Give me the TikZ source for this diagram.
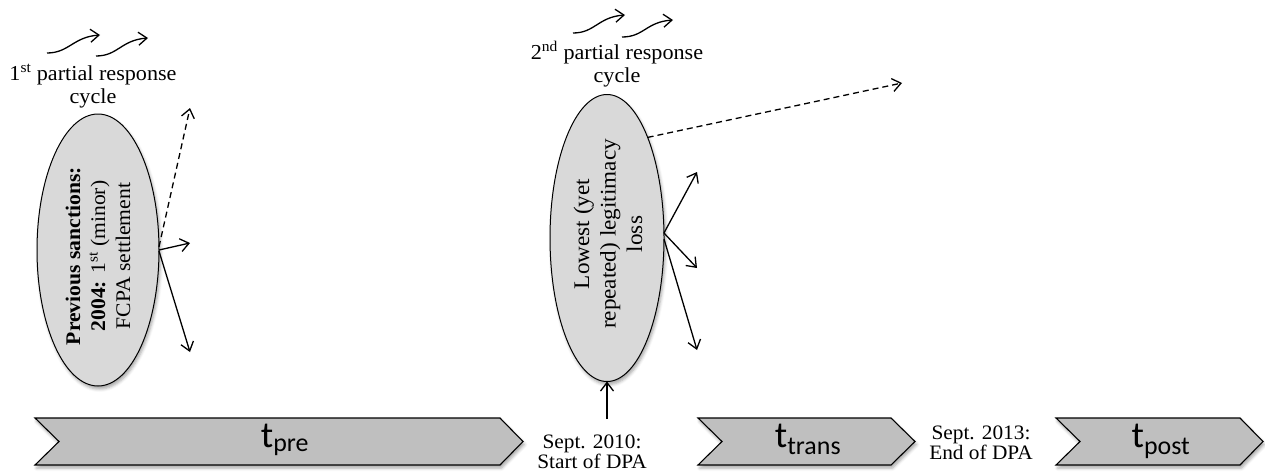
\documentclass[tikz,border=0pt]{standalone}
\usepackage{fontspec}
\setmainfont{Liberation Serif}[FakeStretch=1.04]
\newfontfamily\phasefont{Carlito}
\usetikzlibrary{arrows.meta,shadows.blur,shapes.geometric}

\definecolor{phasefill}{RGB}{191,191,191}
\definecolor{eventfill}{RGB}{217,217,217}

\begin{document}
\begin{tikzpicture}[x=1pt,y=-1pt,
  every node/.style={inner sep=0pt, outer sep=0pt},
  barb/.style={-{Straight Barb[length=8.5pt,width=13pt]}},
  conn/.style={line width=1.3pt, barb},
  dashconn/.style={conn, dash pattern=on 6pt off 4pt},
  softshadow/.style={blur shadow={shadow xshift=1.5pt, shadow yshift=-3pt,
      shadow blur radius=3pt, shadow opacity=35}},
  phase/.style={draw=black, line width=1.1pt, fill=phasefill, softshadow},
  event/.style={ellipse, draw=black, line width=1pt, fill=eventfill, softshadow},
  phaselabel/.style={font=\phasefont\fontsize{37}{40}\selectfont, anchor=base},
  datelabel/.style={align=center, font=\fontsize{20.5}{20}\selectfont},
  cyclelabel/.style={align=center, font=\fontsize{21.3}{23}\selectfont},
]
\useasboundingbox (0,0) rectangle (1265,471);

% ---- phase chevrons along the time line ----
\path[phase] (35,418) -- (500,418) -- (523,441.5) -- (500,465) -- (35,465) -- (59,441.5) -- cycle;
\path[phase] (698,418) -- (891,418) -- (915,441.5) -- (891,465) -- (698,465) -- (722,441.5) -- cycle;
\path[phase] (1056,418) -- (1240,418) -- (1263,441.5) -- (1240,465) -- (1056,465) -- (1080,441.5) -- cycle;

\node[phaselabel] (tpre)   at (285,447)  {t\textsubscript{pre}};
\node[phaselabel] (ttrans) at (808,447)  {t\textsubscript{trans}};
\node[phaselabel] (tpost)  at (1161,447) {t\textsubscript{post}};

\node[datelabel] (start) at (592,452) {Sept. 2010:\\Start of DPA};
\node[datelabel] (end)   at (981,443) {Sept. 2013:\\End of DPA};

% ---- sanction events ----
\node[event, minimum width=122pt, minimum height=272pt] (e1) at (98,250) {};
\node[rotate=90, align=center, font=\fontsize{20.8}{25}\selectfont] (e1text) at (98,256)
  {\textbf{Previous sanctions:}\\\textbf{2004:} 1\textsuperscript{st} (minor)\\FCPA settlement};

\node[event, minimum width=114pt, minimum height=287pt] (e2) at (607,238) {};
\node[rotate=90, align=center, font=\fontsize{22.3}{26.5}\selectfont] (e2text) at (608,234)
  {Lowest (yet\\repeated) legitimacy\\loss};

% ---- partial response cycles ----
\node[cyclelabel] (cyc1) at (93,86) {1\textsuperscript{st} partial response\\cycle};
\node[cyclelabel] (cyc2) at (617,64) {2\textsuperscript{nd} partial response\\cycle};

\coordinate (q1s) at (47,53);   \coordinate (q1e) at (100,35);
\coordinate (q2s) at (96,56);   \coordinate (q2e) at (148,38);
\coordinate (q3s) at (573,33);  \coordinate (q3e) at (625,15);
\coordinate (q4s) at (622,37);  \coordinate (q4e) at (673,20);
\foreach \a in {1,2,3,4}
  \draw[conn] (q\a s) .. controls +(22,0) and +(-27,2) .. (q\a e);

% ---- responses after the first sanction ----
\coordinate (r1a) at (190,108);
\coordinate (r1b) at (190,243);
\coordinate (r1c) at (190,352);
\draw[dashconn] (e1.3) -- (r1a);
\draw[conn] (e1.east) -- (r1b);
\draw[conn] (e1.-1) -- (r1c);

% ---- responses after the second sanction ----
\coordinate (r2a) at (902,83);
\coordinate (r2b) at (697,172);
\coordinate (r2c) at (697,268);
\coordinate (r2d) at (697,350);
\draw[dashconn] (e2.68) -- (r2a);
\draw[conn] (e2.5) -- (r2b);
\draw[conn] (e2.5) -- (r2c);
\draw[conn] (e2.-1) -- (r2d);

% ---- trigger of the DPA ----
\coordinate (trig) at (607,419);
\draw[conn] (trig) -- (e2.south);
\end{tikzpicture}
\end{document}
